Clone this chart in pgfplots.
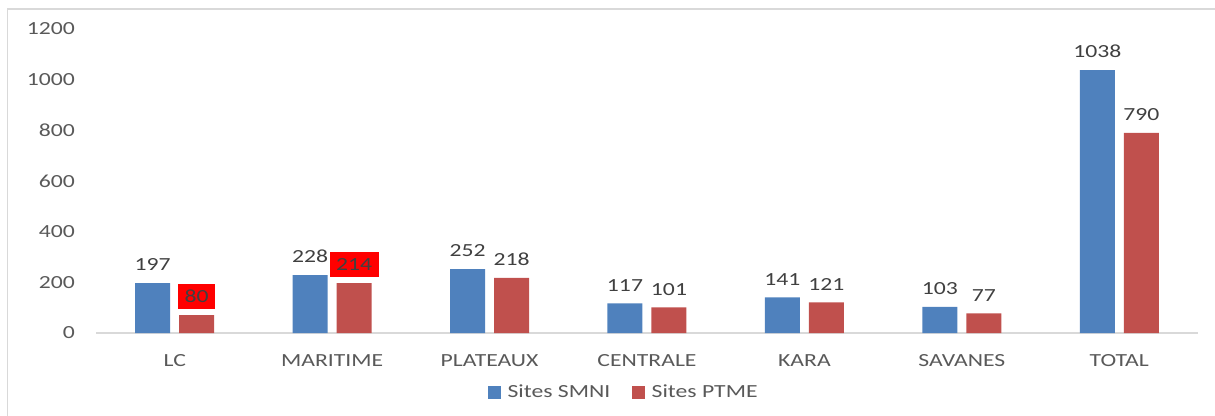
\documentclass[border=0pt]{standalone}
\usepackage{pgfplots}
\pgfplotsset{compat=1.18}
\usepackage{fontspec}
\setmainfont{Carlito}[FakeStretch=1.28]
\definecolor{smni}{HTML}{4F81BD}
\definecolor{ptme}{HTML}{C0504D}
\definecolor{txt}{HTML}{595959}
\definecolor{lbl}{HTML}{404040}
\definecolor{framec}{HTML}{D9D9D9}
\protected\def\hl#1{\raisebox{0pt}[\height][0pt]{\fboxsep=6.5pt\colorbox{red}{#1}}}
\begin{document}
\begin{tikzpicture}[font=\fontsize{18.5}{22}\selectfont]
\useasboundingbox (0,0) rectangle (1215pt,415pt);
\draw[framec, line width=1.5pt] (7.5pt,-20pt) rectangle (1230pt,406pt);
\begin{axis}[
  at={(96pt,82pt)}, anchor=south west,
  scale only axis, width=1102pt, height=304pt,
  xmin=-0.5, xmax=6.5, ymin=0, ymax=1200,
  ytick={0,200,400,600,800,1000,1200},
  yticklabels={0,200,400,600,800,1000,1200},
  xtick={0,1,2,3,4,5,6},
  xticklabels={LC,MARITIME,PLATEAUX,CENTRALE,KARA,SAVANES,TOTAL},
  axis x line*=bottom, axis y line*=left,
  y axis line style={draw=none},
  x axis line style={framec, line width=1.5pt, -},
  major tick style={draw=none},
  yticklabel style={text=txt, anchor=east, inner sep=0pt, xshift=-21pt},
  xticklabel style={text=txt, anchor=north, inner sep=0pt, yshift=-17pt},
  ybar, bar width=35pt,
  every node near coord/.append style={text=lbl, inner sep=0pt, yshift=12pt},
  legend style={at={(0.479,-0.194)}, anchor=center, draw=none, fill=none,
    legend columns=2, text=txt, inner sep=0pt,
    /tikz/every odd column/.append style={column sep=5pt},
    /tikz/every even column/.append style={column sep=20pt}},
  legend cell align=left,
]
\addplot[fill=smni, draw=none, bar shift=-22pt, forget plot,
  nodes near coords, point meta=explicit symbolic]
  coordinates {(0,197)[197] (1,228)[228] (2,252)[252] (3,117)[117] (4,141)[141] (5,103)[103] (6,1038)[1038]};
\addplot[fill=ptme, draw=none, bar shift=22pt, forget plot,
  nodes near coords, point meta=explicit symbolic]
  coordinates {(0,71)[\hl{80}] (1,197)[\hl{214}] (2,218)[218] (3,101)[101] (4,121)[121] (5,77)[77] (6,790)[790]};
\addlegendimage{legend image code/.code={\fill[smni] (0pt,-6pt) rectangle (12pt,6pt);}}
\addlegendentry{Sites SMNI}
\addlegendimage{legend image code/.code={\fill[ptme] (0pt,-6pt) rectangle (12pt,6pt);}}
\addlegendentry{Sites PTME}
\end{axis}
\end{tikzpicture}
\end{document}
